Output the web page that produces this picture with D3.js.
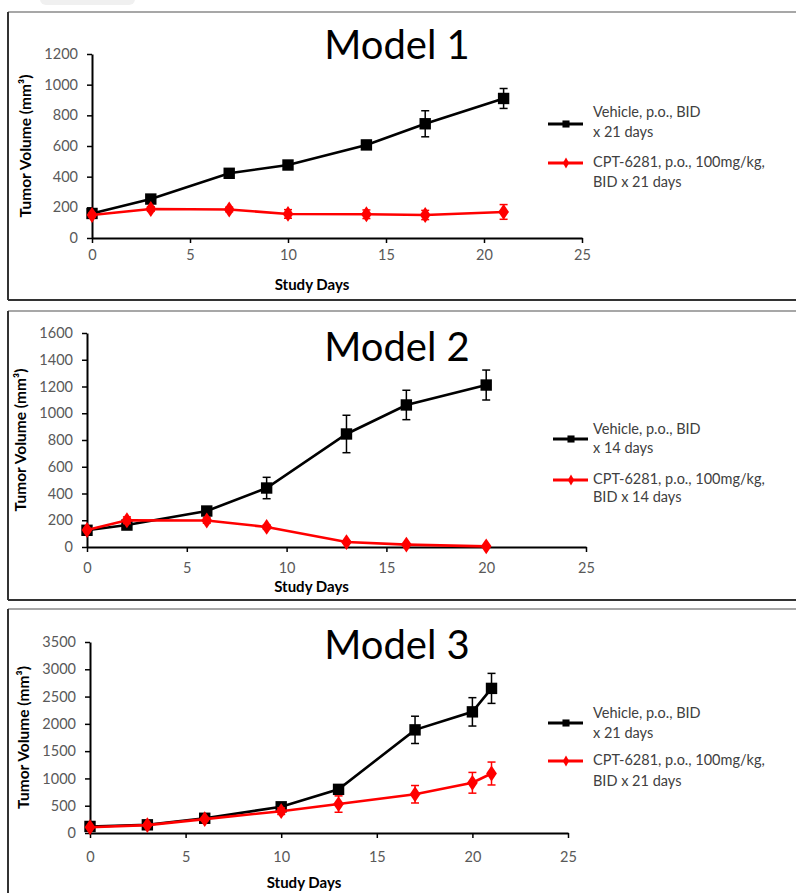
<!DOCTYPE html>
<html><head><meta charset="utf-8">
<script src="https://cdn.jsdelivr.net/npm/d3@7"></script>
<style>body{margin:0;background:#fff}svg{display:block}</style>
</head><body>
<script>
// ---- Data ----
const m1Days = [0, 3, 7, 10, 14, 17, 21];
const m1Vehicle = [160, 254, 422, 476, 607, 745, 910];
const m1VehicleErr = [15, 20, 18, 18, 28, 85, 65];
const m1Cpt = [150, 189, 186, 157, 155, 150, 170];
const m1CptErr = [12, 15, 15, 28, 28, 30, 48];
const m1YTicks = [0, 200, 400, 600, 800, 1000, 1200];

const m2VehDays = [0, 2, 6, 9, 13, 16, 20];
const m2Vehicle = [125, 164, 269, 441, 845, 1062, 1211];
const m2VehicleErr = [15, 20, 20, 80, 140, 110, 112];
const m2CptDays = [0, 2, 6, 9, 13, 16, 20];
const m2Cpt = [127, 200, 198, 150, 37, 18, 5];
const m2CptErr = [12, 25, 20, 15, 8, 6, 3];
const m2YTicks = [0, 200, 400, 600, 800, 1000, 1200, 1400, 1600];

const m3Days = [0, 3, 6, 10, 13, 17, 20, 21];
const m3Vehicle = [120, 150, 270, 480, 800, 1890, 2220, 2650];
const m3VehicleErr = [20, 25, 30, 40, 60, 250, 260, 275];
const m3Cpt = [105, 145, 255, 400, 530, 710, 920, 1090];
const m3CptErr = [15, 20, 30, 60, 150, 160, 190, 210];
const m3YTicks = [0, 500, 1000, 1500, 2000, 2500, 3000, 3500];

const xTicks = [0, 5, 10, 15, 20, 25];
const titles = ["Model 1", "Model 2", "Model 3"];
const legendVehicle = [["Vehicle, p.o., BID", "x 21 days"], ["Vehicle, p.o., BID", "x 14 days"], ["Vehicle, p.o., BID", "x 21 days"]];
const legendCpt = [["CPT-6281, p.o., 100mg/kg,", "BID x 21 days"], ["CPT-6281, p.o., 100mg/kg,", "BID x 14 days"], ["CPT-6281, p.o., 100mg/kg,", "BID x 21 days"]];

// ---- Layout ----
const W = 796, H = 893;
const svg = d3.select("body").append("svg").attr("width", W).attr("height", H);
const FONT = "Lato, 'Open Sans', sans-serif";

// faint header shape
svg.append("rect").attr("x", 40).attr("y", -10).attr("width", 95).attr("height", 15).attr("rx", 6).attr("fill", "#f0f0f0");

const panels = [
  {top: 12, bottom: 300, x0: 92, x1: 582, y0: 238, y1: 54, yMax: 1200, yTicks: m1YTicks,
   series: [{days: m1Days, v: m1Vehicle, e: m1VehicleErr, c: "#000", shape: "sq"},
            {days: m1Days, v: m1Cpt, e: m1CptErr, c: "#ff0000", shape: "di"}],
   titleY: 59, ytX: 27, xtY: 290, tickDy: 20, leg: {x: 548, y1: 124, y2: 163, ty: [113, 133, 163, 183]}},
  {top: 311, bottom: 600, x0: 87, x1: 586, y0: 547, y1: 333, yMax: 1600, yTicks: m2YTicks,
   series: [{days: m2VehDays, v: m2Vehicle, e: m2VehicleErr, c: "#000", shape: "sq"},
            {days: m2CptDays, v: m2Cpt, e: m2CptErr, c: "#ff0000", shape: "di"}],
   titleY: 361, ytX: 22, xtY: 592, tickDy: 24, leg: {x: 553, y1: 439, y2: 480, ty: [430, 449, 480, 498]}},
  {top: 609, bottom: 905, x0: 90, x1: 568, y0: 833, y1: 642, yMax: 3500, yTicks: m3YTicks,
   series: [{days: m3Days, v: m3Vehicle, e: m3VehicleErr, c: "#000", shape: "sq"},
            {days: m3Days, v: m3Cpt, e: m3CptErr, c: "#ff0000", shape: "di"}],
   titleY: 659, ytX: 25, xtY: 888, tickDy: 27, leg: {x: 548, y1: 723, y2: 761, ty: [714, 734, 761, 782]}}
];

panels.forEach((p, i) => {
  const g = svg.append("g");
  // border
  g.append("line").attr("x1", 8).attr("x2", W + 2).attr("y1", p.top).attr("y2", p.top).attr("stroke", "#8a8a8a").attr("stroke-width", 1.5);
  g.append("line").attr("x1", 8).attr("x2", 8).attr("y1", p.top).attr("y2", p.bottom).attr("stroke", "#333").attr("stroke-width", 2);
  g.append("line").attr("x1", 8).attr("x2", W + 2).attr("y1", p.bottom).attr("y2", p.bottom).attr("stroke", "#333").attr("stroke-width", 2);

  const x = d3.scaleLinear().domain([0, 25]).range([p.x0, p.x1]);
  const y = d3.scaleLinear().domain([0, p.yMax]).range([p.y0, p.y1]);

  // axes
  const ya = g.append("g").attr("transform", `translate(${p.x0},0)`)
    .call(d3.axisLeft(y).tickValues(p.yTicks).tickFormat(d3.format("d")).tickSize(5).tickPadding(9).tickSizeOuter(0));
  const xa = g.append("g").attr("transform", `translate(0,${p.y0})`)
    .call(d3.axisBottom(x).tickValues(xTicks).tickFormat(d3.format("d")).tickSize(5).tickPadding(p.tickDy - 13).tickSizeOuter(0));
  [ya, xa].forEach(a => {
    a.select(".domain").attr("stroke", "#000").attr("stroke-width", 2);
    a.selectAll(".tick line").attr("stroke", "#000").attr("stroke-width", 1.5);
    a.selectAll(".tick text").attr("fill", "#595959").style("font-family", FONT).style("font-size", "14.5px");
  });

  // titles
  g.append("text").attr("x", 397).attr("y", p.titleY).attr("text-anchor", "middle")
    .style("font-family", FONT).style("font-size", "40px").attr("fill", "#000").text(titles[i]);
  g.append("text").attr("transform", `translate(${p.ytX},${(p.y0 + p.y1) / 2}) rotate(-90)`)
    .attr("text-anchor", "middle").attr("dominant-baseline", "middle")
    .style("font-family", FONT).style("font-size", "15.5px").style("font-weight", "bold").attr("fill", "#000")
    .text("Tumor Volume (mm³)");
  g.append("text").attr("x", (p.x0 + p.x1) / 2 - 25).attr("y", p.xtY).attr("text-anchor", "middle")
    .style("font-family", FONT).style("font-size", "15px").style("font-weight", "bold").attr("fill", "#000")
    .text("Study Days");

  const line = d3.line().x(d => x(d[0])).y(d => y(d[1]));
  const sqSym = d3.symbol().type(d3.symbolSquare).size(130);
  const diSym = d3.symbol().type(d3.symbolDiamond).size(100);

  p.series.forEach(s => {
    const pts = s.days.map((d, k) => [d, s.v[k], s.e[k]]);
    g.append("path").datum(pts).attr("d", line).attr("fill", "none").attr("stroke", s.c).attr("stroke-width", 2.6);
    // error bars
    const eb = g.append("g").attr("stroke", s.c).attr("stroke-width", 1.5);
    pts.forEach(pt => {
      const cx = x(pt[0]), yt = y(pt[1] + pt[2]), yb = y(Math.max(0, pt[1] - pt[2]));
      eb.append("line").attr("x1", cx).attr("x2", cx).attr("y1", yt).attr("y2", yb);
      eb.append("line").attr("x1", cx - 4).attr("x2", cx + 4).attr("y1", yt).attr("y2", yt);
      eb.append("line").attr("x1", cx - 4).attr("x2", cx + 4).attr("y1", yb).attr("y2", yb);
    });
    g.selectAll(null).data(pts).join("path")
      .attr("d", s.shape === "sq" ? sqSym : diSym).attr("fill", s.c)
      .attr("transform", d => s.shape === "sq" ? `translate(${x(d[0])},${y(d[1])})` : `translate(${x(d[0])},${y(d[1])}) scale(1,0.85)`);
  });

  // legend
  const L = p.leg;
  g.append("line").attr("x1", L.x).attr("x2", L.x + 35).attr("y1", L.y1).attr("y2", L.y1).attr("stroke", "#000").attr("stroke-width", 3);
  g.append("path").attr("d", d3.symbol().type(d3.symbolSquare).size(50)).attr("transform", `translate(${L.x + 18},${L.y1})`).attr("fill", "#000");
  g.append("line").attr("x1", L.x).attr("x2", L.x + 35).attr("y1", L.y2).attr("y2", L.y2).attr("stroke", "#ff0000").attr("stroke-width", 3);
  g.append("path").attr("d", d3.symbol().type(d3.symbolDiamond).size(35)).attr("transform", `translate(${L.x + 18},${L.y2})`).attr("fill", "#ff0000");
  const labs = [legendVehicle[i][0], legendVehicle[i][1], legendCpt[i][0], legendCpt[i][1]];
  labs.forEach((t, k) => {
    g.append("text").attr("x", 593).attr("y", L.ty[k]).attr("dominant-baseline", "middle")
      .style("font-family", FONT).style("font-size", "14.5px").attr("fill", "#404040").text(t);
  });
});
</script>
</body></html>
